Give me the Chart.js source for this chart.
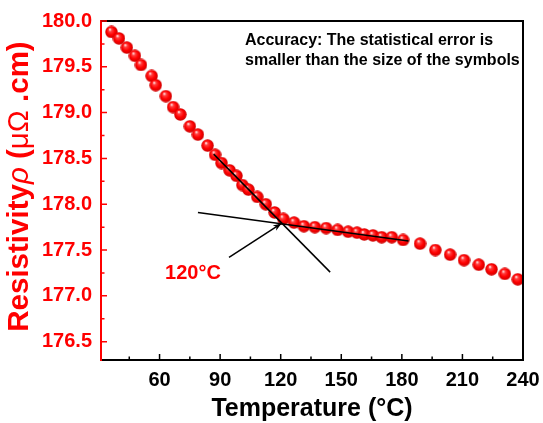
<!DOCTYPE html>
<html>
<head>
<meta charset="utf-8">
<script src="https://cdn.jsdelivr.net/npm/chart.js@4"></script>
<style>
  html, body { margin: 0; padding: 0; background: #fff; }
</style>
</head>
<body>
<canvas id="rhoChart" width="543" height="423"></canvas>
<script>
// measured resistivity vs temperature
const temps = [36.2, 39.9, 43.8, 47.8, 50.8, 56.1, 58.1, 63.1, 66.7, 70.3,
  75.0, 79.0, 83.8, 87.5, 90.7, 94.7, 98.1, 101.0, 104.0, 108.4,
  112.6, 117.0, 121.3, 126.6, 131.5, 136.9, 142.5, 148.2, 153.4, 157.8,
  161.4, 165.7, 170.0, 175.0, 180.6, 189.0, 196.6, 203.9, 210.8, 218.1,
  224.4, 231.0, 237.4];
const rho = [179.88, 179.81, 179.71, 179.62, 179.52, 179.40, 179.30, 179.18, 179.06, 178.98,
  178.85, 178.76, 178.64, 178.54, 178.45, 178.37, 178.31, 178.21, 178.16, 178.08,
  178.00, 177.91, 177.84, 177.80, 177.76, 177.75, 177.74, 177.72, 177.70, 177.69,
  177.67, 177.66, 177.64, 177.64, 177.61, 177.57, 177.50, 177.45, 177.39, 177.34,
  177.29, 177.24, 177.18];

// linear fits below / above the transition
const steepT = [86.8, 144.5];
const steepRho = [178.547, 177.259];
const flatT = [79.0, 183.3];
const flatRho = [177.91, 177.60];

// arrow pointing at the kink
const arrowT = [94.4, 120.4];
const arrowRho = [177.42, 177.79];

const xTicks = [60, 90, 120, 150, 180, 210, 240];
const xMinor = [45, 75, 105, 135, 165, 195, 225];
const yTicks = [176.5, 177.0, 177.5, 178.0, 178.5, 179.0, 179.5, 180.0];
const yMinor = [176.75, 177.25, 177.75, 178.25, 178.75, 179.25, 179.75];

const FONT = "'Liberation Sans', Arial, sans-serif";
const RED = '#ff0000';

// y title pieces: [text, font style]
const yTitle = [
  ['Resistivity', 'bold'],
  ['ρ', 'italic'],
  [' (', 'bold'],
  ['μΩ', 'normal'],
  [' .cm)', 'bold']
];

function makeBall(d) {
  const c = document.createElement('canvas');
  c.width = d; c.height = d;
  const g = c.getContext('2d');
  const r = d / 2;
  const grad = g.createRadialGradient(r * 0.75, r * 0.6, r * 0.05, r, r, r);
  grad.addColorStop(0, '#fff0f0');
  grad.addColorStop(0.22, '#ff4040');
  grad.addColorStop(0.6, '#ff0000');
  grad.addColorStop(1, '#c80000');
  g.fillStyle = grad;
  g.beginPath();
  g.arc(r, r, r - 0.3, 0, Math.PI * 2);
  g.fill();
  return c;
}
const ball = makeBall(13);

const pts = (xs, ys) => xs.map((x, i) => ({ x: x, y: ys[i] }));

// frame, inward ticks, annotations
const decor = {
  id: 'decor',
  afterDatasetsDraw(chart) {
    const { ctx, chartArea: a, scales: { x, y } } = chart;
    ctx.save();
    // top and right frame
    ctx.strokeStyle = '#000';
    ctx.lineWidth = 2;
    ctx.beginPath();
    ctx.moveTo(a.left, a.top);
    ctx.lineTo(a.right, a.top);
    ctx.lineTo(a.right, a.bottom);
    ctx.stroke();

    // inward ticks on bottom axis
    ctx.lineWidth = 1.5;
    ctx.beginPath();
    xTicks.forEach(v => { const px = x.getPixelForValue(v); ctx.moveTo(px, a.bottom); ctx.lineTo(px, a.bottom - 6); });
    xMinor.forEach(v => { const px = x.getPixelForValue(v); ctx.moveTo(px, a.bottom); ctx.lineTo(px, a.bottom - 3.5); });
    ctx.stroke();

    // inward ticks on left axis
    ctx.strokeStyle = RED;
    ctx.beginPath();
    yTicks.forEach(v => { const py = y.getPixelForValue(v); ctx.moveTo(a.left, py); ctx.lineTo(a.left + 6, py); });
    yMinor.forEach(v => { const py = y.getPixelForValue(v); ctx.moveTo(a.left, py); ctx.lineTo(a.left + 3.5, py); });
    ctx.stroke();

    // arrow head
    const x0 = x.getPixelForValue(arrowT[0]), y0 = y.getPixelForValue(arrowRho[0]);
    const x1 = x.getPixelForValue(arrowT[1]), y1 = y.getPixelForValue(arrowRho[1]);
    const ang = Math.atan2(y1 - y0, x1 - x0);
    ctx.fillStyle = '#000';
    ctx.beginPath();
    ctx.moveTo(x1, y1);
    ctx.lineTo(x1 - 9 * Math.cos(ang - 0.35), y1 - 9 * Math.sin(ang - 0.35));
    ctx.lineTo(x1 - 6 * Math.cos(ang), y1 - 6 * Math.sin(ang));
    ctx.lineTo(x1 - 9 * Math.cos(ang + 0.35), y1 - 9 * Math.sin(ang + 0.35));
    ctx.closePath();
    ctx.fill();

    // labels
    ctx.fillStyle = RED;
    ctx.font = 'bold 20px ' + FONT;
    ctx.textAlign = 'center';
    ctx.textBaseline = 'middle';
    ctx.fillText('120°C', 193, 273);

    ctx.fillStyle = '#000';
    ctx.font = 'bold 16px ' + FONT;
    ctx.textAlign = 'left';
    ctx.fillText('Accuracy: The statistical error is', 245, 41);
    ctx.fillText('smaller than the size of the symbols', 245, 61);

    // rotated y title with mixed styles
    ctx.fillStyle = RED;
    ctx.translate(20, (a.top + a.bottom) / 2 - 4);
    ctx.rotate(-Math.PI / 2);
    const widths = yTitle.map(([t, st]) => { ctx.font = st + ' 29.5px ' + FONT; return ctx.measureText(t).width; });
    let cx = -widths.reduce((s, w) => s + w, 0) / 2;
    ctx.textAlign = 'left';
    yTitle.forEach(([t, st], i) => {
      ctx.font = st + ' 29.5px ' + FONT;
      ctx.fillText(t, cx, 0);
      cx += widths[i];
    });
    ctx.restore();
  }
};

const ctx = document.getElementById('rhoChart').getContext('2d');
new Chart(ctx, {
  type: 'scatter',
  data: {
    datasets: [
      {
        data: pts(temps, rho),
        pointStyle: ball,
        pointRadius: 6.5,
        order: 2
      },
      {
        data: pts(steepT, steepRho),
        showLine: true,
        borderColor: '#000',
        borderWidth: 1.5,
        pointRadius: 0,
        order: 1
      },
      {
        data: pts(flatT, flatRho),
        showLine: true,
        borderColor: '#000',
        borderWidth: 1.5,
        pointRadius: 0,
        order: 1
      },
      {
        data: pts(arrowT, arrowRho),
        showLine: true,
        borderColor: '#000',
        borderWidth: 1.5,
        pointRadius: 0,
        order: 1
      }
    ]
  },
  options: {
    responsive: false,
    animation: false,
    layout: { padding: { top: 20, right: 20, left: 0, bottom: 0 } },
    plugins: { legend: { display: false }, tooltip: { enabled: false } },
    scales: {
      x: {
        type: 'linear',
        min: 31,
        max: 240,
        afterFit: s => { s.height = 63; s.paddingRight = 0; s.paddingLeft = 0; },
        afterBuildTicks: s => { s.ticks = xTicks.map(v => ({ value: v })); },
        grid: { display: false, drawTicks: false },
        border: { color: '#000', width: 2 },
        ticks: {
          autoSkip: false, maxRotation: 0, padding: 8,
          color: '#000', font: { family: FONT, size: 20, weight: 'bold' }
        },
        title: {
          display: true, text: 'Temperature (°C)', color: '#000',
          padding: { top: 4, bottom: 0 },
          font: { family: FONT, size: 25, weight: 'bold', lineHeight: 1.1 }
        }
      },
      y: {
        min: 176.3,
        max: 180.0,
        afterFit: s => { s.width = 101; },
        afterBuildTicks: s => { s.ticks = yTicks.map(v => ({ value: v })); },
        grid: { display: false, drawTicks: false },
        border: { color: RED, width: 2 },
        ticks: {
          padding: 9, color: RED,
          font: { family: FONT, size: 20, weight: 'bold' },
          callback: v => v.toFixed(1)
        }
      }
    }
  },
  plugins: [decor]
});
</script>
</body>
</html>
